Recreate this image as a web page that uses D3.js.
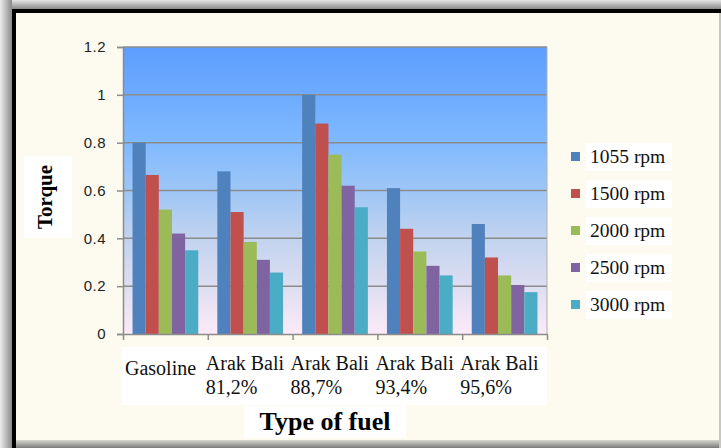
<!DOCTYPE html>
<html><head><meta charset="utf-8">
<script src="https://cdn.jsdelivr.net/npm/d3@7"></script>
<style>html,body{margin:0;padding:0;background:#fff;}svg{display:block;}</style>
</head><body>
<script>
const categories = [["Gasoline"], ["Arak Bali","81,2%"], ["Arak Bali","88,7%"], ["Arak Bali","93,4%"], ["Arak Bali","95,6%"]];
const seriesNames = ["1055 rpm","1500 rpm","2000 rpm","2500 rpm","3000 rpm"];
const rpm1055 = [0.80, 0.68, 1.00, 0.61, 0.46];
const rpm1500 = [0.665, 0.51, 0.88, 0.44, 0.32];
const rpm2000 = [0.52, 0.385, 0.75, 0.345, 0.245];
const rpm2500 = [0.42, 0.31, 0.62, 0.285, 0.205];
const rpm3000 = [0.35, 0.257, 0.53, 0.245, 0.175];
const yTicks = [0, 0.2, 0.4, 0.6, 0.8, 1, 1.2];
const colors = ["#4F81BD","#C0504D","#9BBB59","#8064A2","#4BACC6"];
const seriesValues = [rpm1055, rpm1500, rpm2000, rpm2500, rpm3000];

(function(){
const W = 721, H = 448;
const svg = d3.select("body").append("svg").attr("width", W).attr("height", H);
const defs = svg.append("defs");

const gTop = defs.append("linearGradient").attr("id","shTop").attr("x1",0).attr("y1",0).attr("x2",0).attr("y2",1);
gTop.append("stop").attr("offset",0).attr("stop-color","#e6e6e6");
gTop.append("stop").attr("offset",1).attr("stop-color","#8a8a8a");
const gLeft = defs.append("linearGradient").attr("id","shLeft").attr("x1",0).attr("y1",0).attr("x2",1).attr("y2",0);
gLeft.append("stop").attr("offset",0).attr("stop-color","#ececec");
gLeft.append("stop").attr("offset",1).attr("stop-color","#8a8a8a");
const gBot = defs.append("linearGradient").attr("id","shBot").attr("x1",0).attr("y1",0).attr("x2",0).attr("y2",1);
gBot.append("stop").attr("offset",0).attr("stop-color","#d8d8d0");
gBot.append("stop").attr("offset",1).attr("stop-color","#7a7a7a");

svg.append("rect").attr("width",W).attr("height",H).attr("fill","#d0d0d0");
svg.append("rect").attr("x",0).attr("y",0).attr("width",W).attr("height",9).attr("fill","url(#shTop)");
svg.append("rect").attr("x",0).attr("y",0).attr("width",12).attr("height",H).attr("fill","url(#shLeft)");
svg.append("rect").attr("x",12).attr("y",9).attr("width",W-12).attr("height",H-9).attr("fill","#000");
svg.append("rect").attr("x",16).attr("y",13).attr("width",W-16-2).attr("height",440-13).attr("fill","#FDFBEF");
svg.append("rect").attr("x",16).attr("y",440).attr("width",W-16).attr("height",8).attr("fill","url(#shBot)");
svg.append("rect").attr("x",W-2).attr("y",13).attr("width",2).attr("height",H-13).attr("fill","#c8c8c0");

const pL = 123, pR = 547, pT = 47, pB = 334;
const y = d3.scaleLinear().domain([0, 1.2]).range([pB, pT]);
const x0 = d3.scaleBand().domain(d3.range(categories.length)).range([pL, pR]).paddingInner(0.225).paddingOuter(0.1125);
const x1 = d3.scaleBand().domain(d3.range(seriesNames.length)).range([0, x0.bandwidth()]);

const pg = defs.append("linearGradient").attr("id","plotGrad").attr("x1",0).attr("y1",0).attr("x2",0).attr("y2",1);
[[0,"#5C9DFF"],[0.33,"#7FB9FF"],[0.5,"#9EC6F6"],[0.67,"#C2D3EE"],[0.85,"#E0DFF2"],[1,"#FCEAF8"]].forEach(s=>
  pg.append("stop").attr("offset",s[0]).attr("stop-color",s[1]));
svg.append("rect").attr("x",pL).attr("y",pT).attr("width",pR-pL).attr("height",pB-pT).attr("fill","url(#plotGrad)");

svg.append("g").selectAll("line").data(yTicks.filter(t=>t>0)).join("line")
  .attr("x1",pL).attr("x2",pR).attr("y1",d=>y(d)).attr("y2",d=>y(d))
  .attr("stroke","#8c8c8c").attr("stroke-width",1.5);
svg.append("line").attr("x1",pR).attr("x2",pR).attr("y1",pT).attr("y2",pB).attr("stroke","#b0b0b0").attr("stroke-width",1);

const groups = svg.append("g").selectAll("g").data(categories).join("g")
  .attr("transform",(d,i)=>`translate(${x0(i)},0)`);
groups.selectAll("rect").data((d,i)=>seriesValues.map((s,k)=>({k, v:s[i]}))).join("rect")
  .attr("x",d=>x1(d.k)).attr("width",x1.bandwidth())
  .attr("y",d=>y(d.v)).attr("height",d=>y(0)-y(d.v))
  .attr("fill",d=>colors[d.k]);

const yAxis = svg.append("g").attr("transform",`translate(${pL},0)`)
  .call(d3.axisLeft(y).tickValues(yTicks).tickFormat(d=>String(d)).tickSize(6).tickPadding(11));
yAxis.select(".domain").attr("stroke","#8c8c8c").attr("stroke-width",1.5);
yAxis.selectAll(".tick line").attr("stroke","#8c8c8c").attr("stroke-width",1.5);
yAxis.selectAll("text").attr("font-family","Liberation Sans, Arial, sans-serif").attr("font-size",15)
  .attr("fill","#222").attr("letter-spacing",0.5);

const xb = d3.scaleLinear().domain([0, categories.length]).range([pL, pR]);
const xAxis = svg.append("g").attr("transform",`translate(0,${pB})`)
  .call(d3.axisBottom(xb).tickValues(d3.range(categories.length+1)).tickFormat("").tickSize(6).tickSizeOuter(0));
xAxis.select(".domain").attr("stroke","#8c8c8c").attr("stroke-width",1.5);
xAxis.selectAll(".tick line").attr("stroke","#8c8c8c").attr("stroke-width",1.5);

svg.append("rect").attr("x",122).attr("y",347).attr("width",425).attr("height",58).attr("fill","#fff");
const serif = "Liberation Serif, Times New Roman, serif";
const lab = svg.append("g").selectAll("text").data(categories).join("text")
  .attr("font-family",serif).attr("font-size",20).attr("fill","#111")
  .attr("x",(d,i)=>xb(i)+ (i===0?2:-2))
  .attr("y",d=>d.length===1?375:370);
lab.selectAll("tspan").data(d=>d).join("tspan")
  .attr("x",function(){return d3.select(this.parentNode).attr("x");})
  .attr("dy",(d,j)=>j===0?0:24).text(d=>d);

svg.append("rect").attr("x",244).attr("y",406).attr("width",162).attr("height",32).attr("fill","#fff");
svg.append("text").attr("x",(pL+pR)/2-10).attr("y",430).attr("text-anchor","middle")
  .attr("font-family",serif).attr("font-weight","bold").attr("font-size",26).attr("fill","#000").text("Type of fuel");

svg.append("rect").attr("x",24).attr("y",156).attr("width",48).attr("height",82).attr("fill","#fff");
svg.append("text").attr("transform","translate(52,197) rotate(-90)").attr("text-anchor","middle")
  .attr("font-family",serif).attr("font-weight","bold").attr("font-size",21).attr("fill","#000").text("Torque");

const leg = svg.append("g").selectAll("g").data(seriesNames).join("g")
  .attr("transform",(d,i)=>`translate(571,${152 + i*37})`);
leg.append("rect").attr("x",15).attr("y",-9).attr("width",86).attr("height",28).attr("fill","#fff");
leg.append("rect").attr("x",0).attr("y",0).attr("width",9).attr("height",9).attr("fill",(d,i)=>colors[i]);
leg.append("text").attr("x",19).attr("y",10.5).attr("font-family",serif).attr("font-size",19.5).attr("fill","#111").text(d=>d);
})();
</script>
</body></html>
